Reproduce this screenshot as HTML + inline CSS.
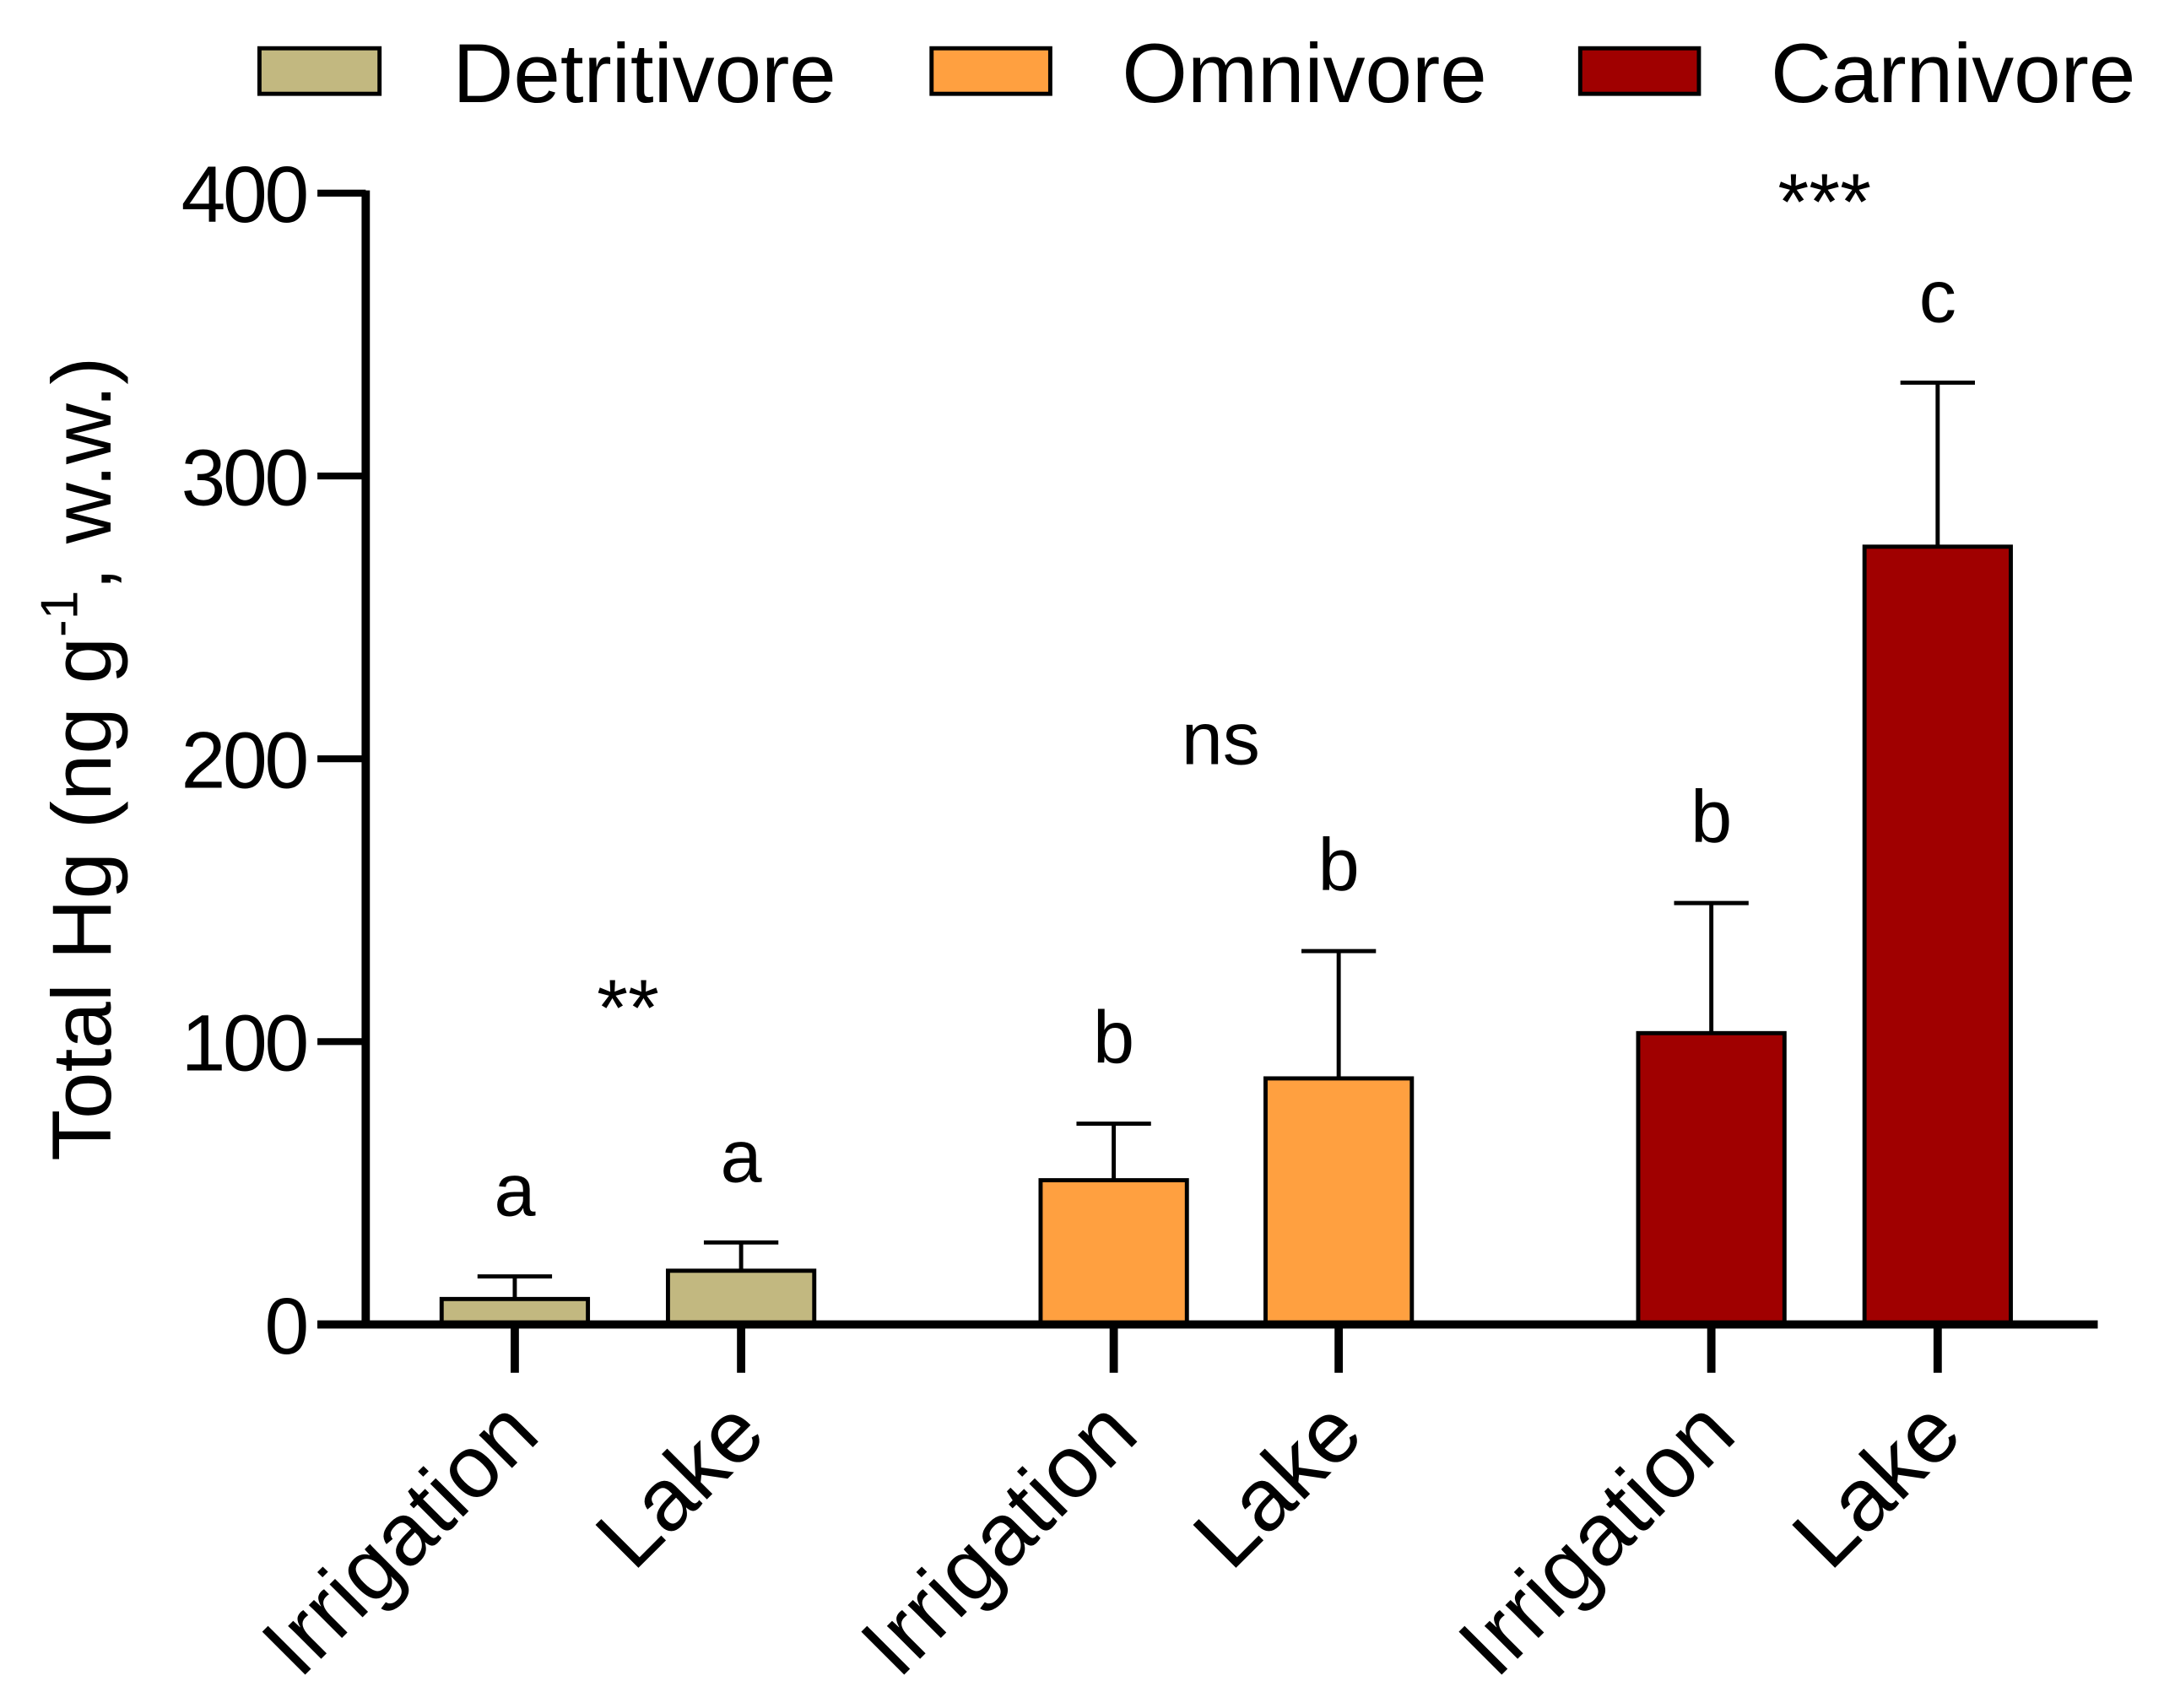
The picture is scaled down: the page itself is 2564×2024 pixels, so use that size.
<!DOCTYPE html>
<html><head><meta charset="utf-8"><style>html,body{margin:0;padding:0;background:#fff}svg{display:block}</style></head>
<body>
<svg id="chart" width="2564" height="2024" viewBox="0 0 1568 1238" preserveAspectRatio="none" xmlns="http://www.w3.org/2000/svg" font-family="Liberation Sans, Arial, sans-serif">
<g id="legend">
  <rect x="188" y="35" width="87" height="33" fill="#c2b880" stroke="#000" stroke-width="3"/>
  <text x="328" y="74" font-size="61">Detritivore</text>
  <rect x="675" y="35" width="86" height="33" fill="#ffa040" stroke="#000" stroke-width="3"/>
  <text x="813" y="74" font-size="61">Omnivore</text>
  <rect x="1145" y="35" width="86" height="33" fill="#a00000" stroke="#000" stroke-width="3"/>
  <text x="1283" y="74" font-size="61">Carnivore</text>
</g>
<text transform="translate(80,550) rotate(-90)" text-anchor="middle" font-size="61">Total Hg (ng g<tspan dy="-24" font-size="38">-1</tspan><tspan dy="24">, w.w.)</tspan></text>
<g id="plot"></g>
</svg>
<script>
const categories = ["Irrigation","Lake","Irrigation","Lake","Irrigation","Lake"];
const groups = ["Detritivore","Detritivore","Omnivore","Omnivore","Carnivore","Carnivore"];
const means = [9, 19, 51, 87, 103, 275];
const errors = [8, 10, 20, 45, 46, 58];
const letters = ["a","a","b","b","b","c"];
const yTicks = [0, 100, 200, 300, 400];
const sigLabels = ["**","ns","***"];
const sigValues = [115, 205, 400];

const colors = {Detritivore:"#c2b880", Omnivore:"#ffa040", Carnivore:"#a00000"};
const centers = [373, 537, 807, 970, 1240, 1404];
const y0 = 960, yTop = 140, yMax = 400;
const yS = v => y0 - (y0 - yTop) * v / yMax;
const NS = "http://www.w3.org/2000/svg";
const plot = document.getElementById("plot");
function mk(tag, attrs, text){ const e=document.createElementNS(NS,tag); for(const k in attrs) e.setAttribute(k,attrs[k]); if(text!==undefined) e.textContent=text; plot.appendChild(e); return e; }

let ax = mk("line",{x1:265,x2:265,y1:yS(400)-2,y2:y0+2,stroke:"#000","stroke-width":6});


yTicks.forEach(t=>{
  let l = mk("line",{x1:230,x2:265,y1:yS(t),y2:yS(t),stroke:"#000","stroke-width":5});
  
  
  let tx = mk("text",{x:222,y:yS(t)+21,"text-anchor":"end","font-size":58,"letter-spacing":"-2"},String(t));
  
  
});
const bw = 106;
means.forEach((m,i)=>{
  const cx = centers[i];
  const top = yS(m+errors[i]);
  let e1 = mk("line",{x1:cx,x2:cx,y1:top,y2:yS(m),stroke:"#000","stroke-width":3});
  
  
  let e2 = mk("line",{x1:cx-27,x2:cx+27,y1:top,y2:top,stroke:"#000","stroke-width":3});
  
  
  let r = mk("rect",{x:cx-bw/2,y:yS(m),width:bw,height:y0-yS(m),fill:colors[groups[i]],stroke:"#000","stroke-width":3});
  
  
  let lt = mk("text",{x:cx,y:top-44,"text-anchor":"middle","font-size":54},letters[i]);
  
  
  let tk = mk("line",{x1:cx,x2:cx,y1:y0,y2:995,stroke:"#000","stroke-width":6});
  
  
  let xl = mk("text",{transform:`translate(${cx+20},${1042}) rotate(-45)`,"text-anchor":"end","font-size":64},categories[i]);
  
  
});
let xa = mk("line",{x1:230,x2:1520,y1:y0,y2:y0,stroke:"#000","stroke-width":6});


sigLabels.forEach((s,g)=>{
  const cx = (centers[2*g]+centers[2*g+1])/2;
  let t = mk("text",{x:cx+(s==="ns"?-4:0),y:yS(sigValues[g])+(s==="ns"?14:26),"text-anchor":"middle","font-size":s==="ns"?54:58},s);
  
  
});
</script>
</body></html>
